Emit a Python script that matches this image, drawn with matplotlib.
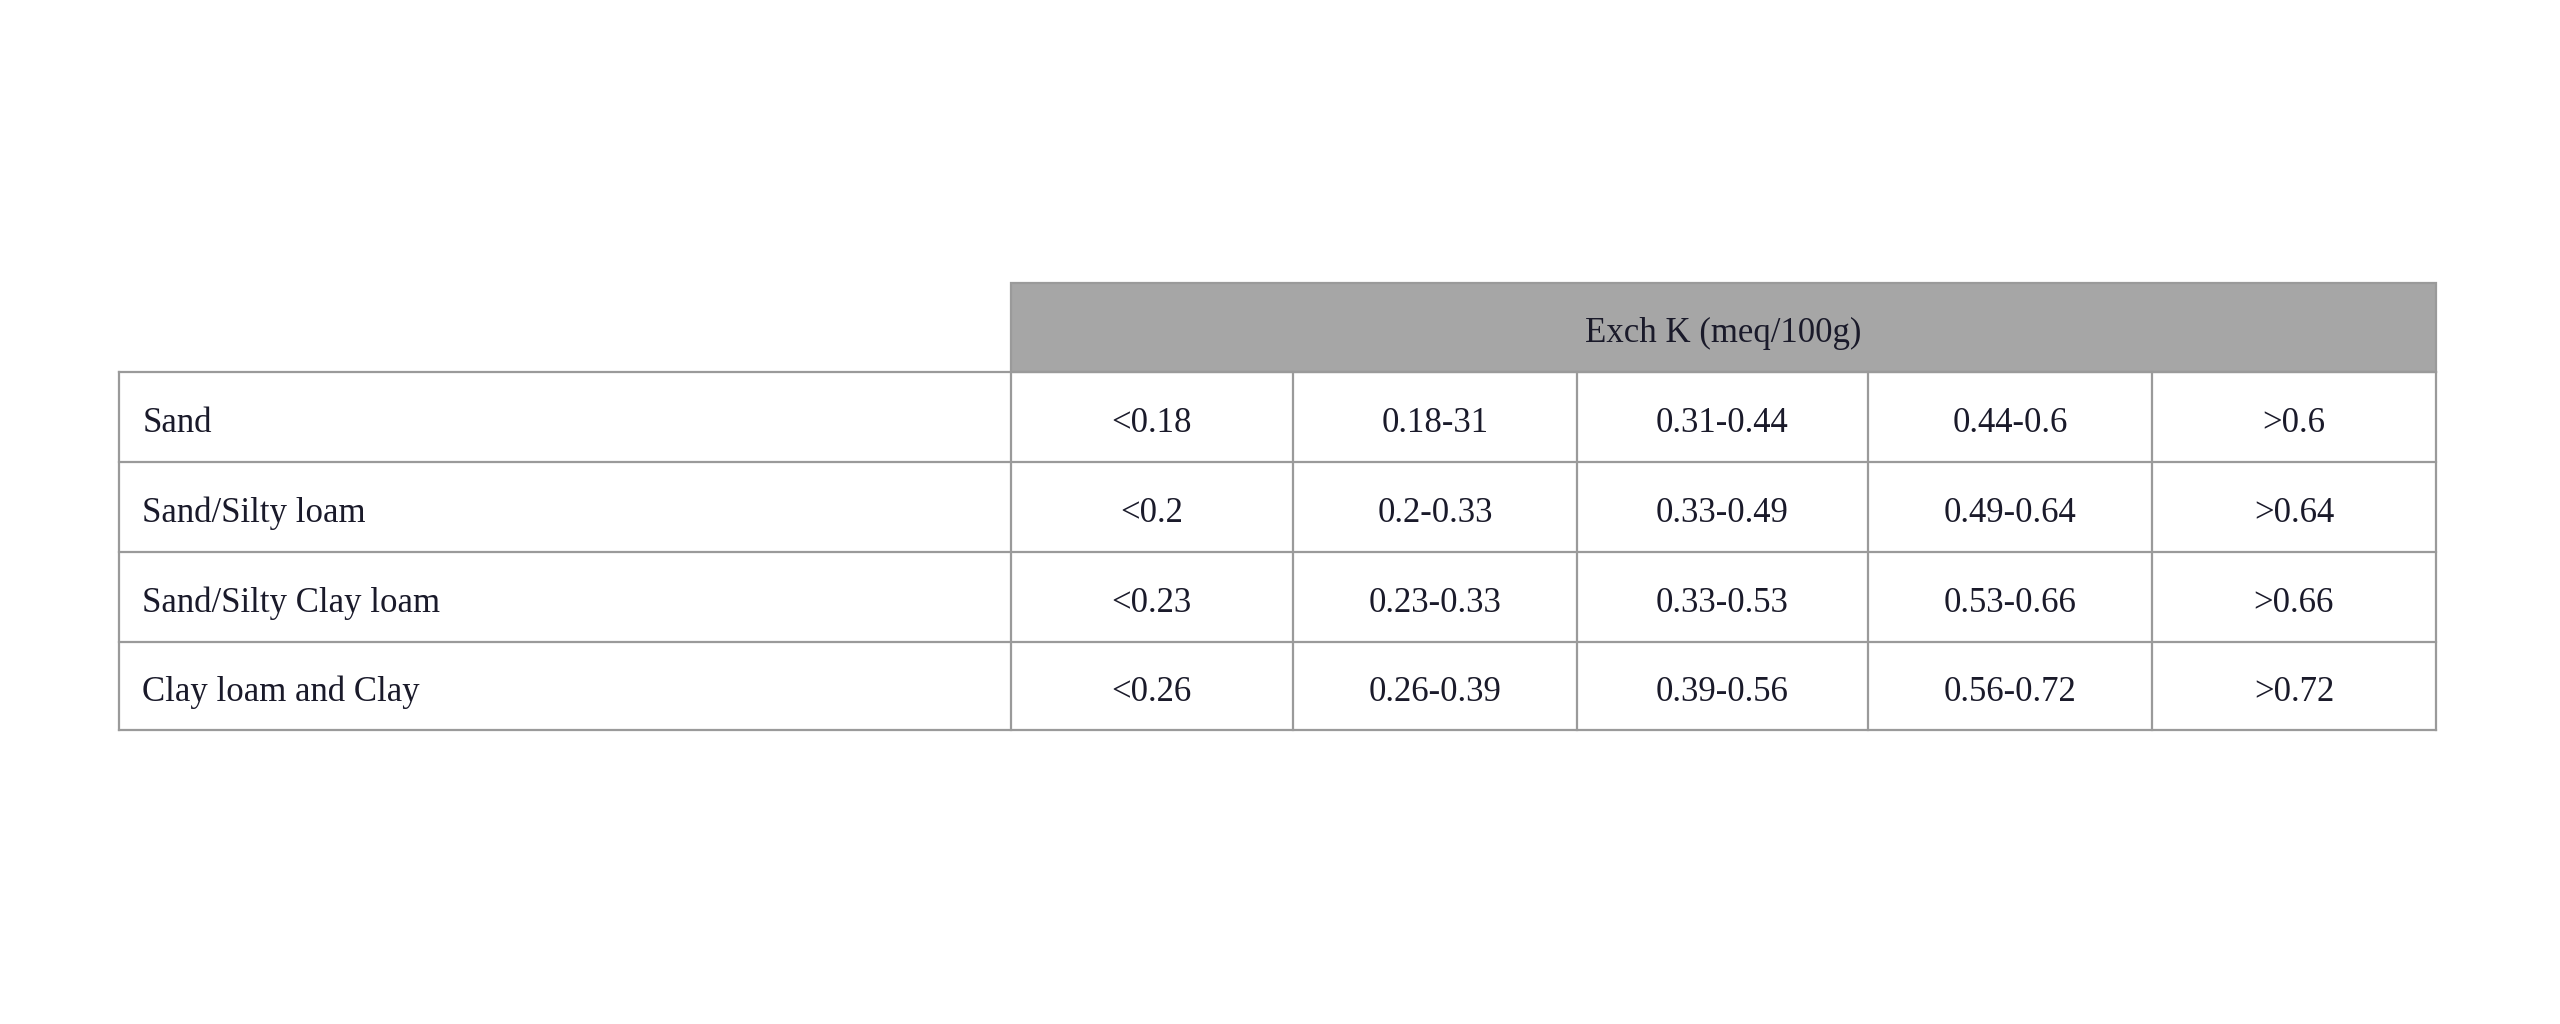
import matplotlib.pyplot as plt

header = "Exch K (meq/100g)"
soils = ["Sand", "Sand/Silty loam", "Sand/Silty Clay loam", "Clay loam and Clay"]
ranges = [
    ["<0.18", "0.18-31", "0.31-0.44", "0.44-0.6", ">0.6"],
    ["<0.2", "0.2-0.33", "0.33-0.49", "0.49-0.64", ">0.64"],
    ["<0.23", "0.23-0.33", "0.33-0.53", "0.53-0.66", ">0.66"],
    ["<0.26", "0.26-0.39", "0.39-0.56", "0.56-0.72", ">0.72"],
]

# column edges and row edges in figure fractions
xs = [0.0466, 0.3948, 0.5051, 0.6161, 0.7296, 0.8406, 0.9515]
ys = [0.2759, 0.3636, 0.4514, 0.5391, 0.6268, 0.7129]
dy = 0.006  # text sits a little below the cell centre

fig = plt.figure(figsize=(25.6, 10.24), dpi=100)
ax = fig.add_axes([0, 0, 1, 1])
ax.set_xlim(0, 1)
ax.set_ylim(1, 0)
ax.axis("off")

lc = "#9a9a9a"
lw = 1.6
font = dict(family="Liberation Serif", fontsize=25, color="#1a1a2a")

# header
ax.add_patch(plt.Rectangle((xs[1], ys[0]), xs[-1] - xs[1], ys[1] - ys[0],
                           facecolor="#a6a6a6", edgecolor=lc, lw=lw))
ax.text((xs[1] + xs[-1]) / 2, (ys[0] + ys[1]) / 2 + dy, header, ha="center", va="center", **font)

for i, soil in enumerate(soils):
    y0, y1 = ys[i + 1], ys[i + 2]
    ym = (y0 + y1) / 2 + dy
    ax.text(xs[0] + 0.009, ym, soil, ha="left", va="center", **font)
    for j, val in enumerate(ranges[i]):
        ax.text((xs[j + 1] + xs[j + 2]) / 2, ym, val, ha="center", va="center", **font)

# grid lines
for y in ys[1:]:
    ax.plot([xs[0], xs[-1]], [y, y], color=lc, lw=lw)
for x in xs:
    ax.plot([x, x], [ys[1], ys[-1]], color=lc, lw=lw)

fig.savefig("out.png", dpi=100)
